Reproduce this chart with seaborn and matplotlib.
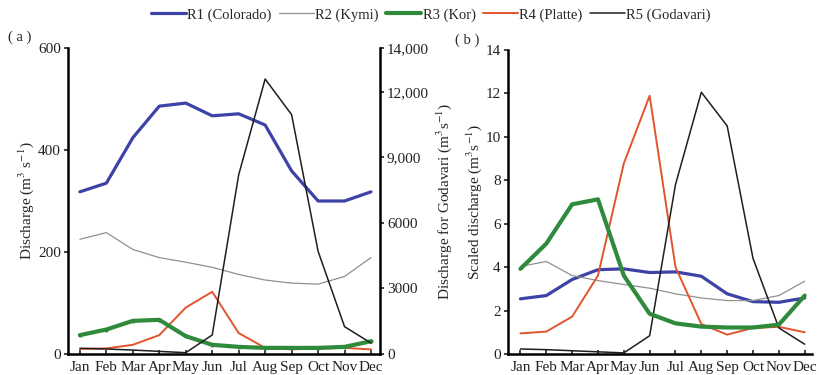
import numpy as np
import pandas as pd
import matplotlib
matplotlib.use("Agg")
import matplotlib.pyplot as plt
import seaborn as sns

months = ["Jan", "Feb", "Mar", "Apr", "May", "Jun", "Jul", "Aug", "Sep", "Oct", "Nov", "Dec"]

# Panel (a): discharge (m3/s)
colorado = [318, 335, 424, 486, 492, 467, 471, 449, 359, 300, 300, 318]
kymi = [225, 238, 205, 189, 180, 170, 156, 145, 139, 137, 152, 189]
kor = [37, 48, 65, 67, 35, 18, 14, 12, 12, 12, 14, 25]
platte = [10, 11, 18, 37, 91, 122, 41, 12, 9, 11, 12, 9]
godavari = [260, 230, 180, 120, 60, 870, 8200, 12580, 10950, 4700, 1250, 500]

# Panel (b): scaled discharge
colorado_s = [2.54, 2.69, 3.43, 3.88, 3.92, 3.75, 3.78, 3.58, 2.77, 2.41, 2.38, 2.58]
kymi_s = [4.03, 4.26, 3.61, 3.38, 3.20, 3.03, 2.77, 2.58, 2.46, 2.46, 2.69, 3.35]
kor_s = [3.92, 5.08, 6.89, 7.12, 3.61, 1.85, 1.41, 1.26, 1.22, 1.22, 1.35, 2.69]
platte_s = [0.95, 1.03, 1.72, 3.61, 8.77, 11.89, 4.00, 1.38, 0.89, 1.20, 1.25, 1.00]
godavari_s = [0.23, 0.20, 0.15, 0.10, 0.05, 0.84, 7.80, 12.05, 10.50, 4.40, 1.20, 0.45]

left_ticks = [0, 200, 400, 600]
right_ticks = [0, 3000, 6000, 9000, 12000, 14000]
right_tick_labels = ["0", "3000", "6000", "9,000", "12,000", "14,000"]
b_ticks = [0, 2, 4, 6, 8, 10, 12, 14]

names = ["R1 (Colorado)", "R2 (Kymi)", "R3 (Kor)", "R4 (Platte)", "R5 (Godavari)"]
colors = ["#3d42a6", "#909090", "#2f8a3c", "#e2542c", "#1e1e1e"]
widths = [2.3, 0.9, 3.0, 1.4, 1.1]

sns.set_theme(style="white")
plt.rcParams["font.family"] = ["Liberation Serif", "DejaVu Serif"]
plt.rcParams["mathtext.fontset"] = "stix"

fig = plt.figure(figsize=(8.19, 3.75), dpi=100)
ax_a = fig.add_axes([0.083, 0.056, 0.381, 0.816])
ax_g = ax_a.twinx()
ax_b = fig.add_axes([0.620, 0.056, 0.372, 0.811])

x = np.arange(12)

def draw(ax, y, i, marker=None):
    df = pd.DataFrame({"m": x, "v": y})
    sns.lineplot(data=df, x="m", y="v", ax=ax, color=colors[i], linewidth=widths[i],
                 marker=marker, markersize=3, markeredgewidth=0, legend=False)

# panel a
draw(ax_a, colorado, 0)
draw(ax_a, kymi, 1)
draw(ax_a, platte, 3)
draw(ax_a, kor, 2, marker="o")
draw(ax_g, godavari, 4)

# panel b
draw(ax_b, colorado_s, 0)
draw(ax_b, kymi_s, 1)
draw(ax_b, platte_s, 3)
draw(ax_b, godavari_s, 4)
draw(ax_b, kor_s, 2)

for ax in (ax_a, ax_g, ax_b):
    ax.set_facecolor("none")
    ax.set_xlabel("")
    ax.set_ylabel("")

ax_a.set_xlim(-0.45, 11.34)
ax_b.set_xlim(-0.49, 11.3)
ax_a.set_ylim(0, 600)
ax_g.set_ylim(0, 14000)
ax_b.set_ylim(0, 14)

ax_a.set_xticks(x)
ax_a.set_xticklabels(months)
ax_b.set_xticks(x)
ax_b.set_xticklabels(months)
ax_a.set_yticks(left_ticks)
ax_g.set_yticks(right_ticks)
ax_g.set_yticklabels(right_tick_labels)
ax_b.set_yticks(b_ticks)

for ax in (ax_a, ax_g, ax_b):
    for s in ax.spines.values():
        s.set_visible(False)
    ax.tick_params(labelsize=11, colors="#222222", length=3, width=1.2, direction="in", pad=3)

ax_a.spines["left"].set_visible(True)
ax_a.spines["bottom"].set_visible(True)
ax_g.spines["right"].set_visible(True)
ax_b.spines["left"].set_visible(True)
ax_b.spines["bottom"].set_visible(True)
for ax in (ax_a, ax_g, ax_b):
    for s in ax.spines.values():
        s.set_color("black")
        s.set_linewidth(1.8)

ax_a.tick_params(axis="y", left=True, direction="out", pad=2)
ax_a.tick_params(axis="x", bottom=True, pad=5)
ax_g.tick_params(axis="y", right=True, left=False, direction="out", pad=2)
ax_b.tick_params(axis="y", left=True, direction="out", pad=2)
ax_b.tick_params(axis="x", bottom=True, pad=5)

ax_a.set_ylabel("Discharge (m$^{3}$ s$^{-1}$)", fontsize=11, labelpad=1.5)
ax_g.set_ylabel("Discharge for Godavari (m$^{3}$s$^{-1}$)", fontsize=11, labelpad=4)
ax_b.set_ylabel("Scaled discharge (m$^{3}$s$^{-1}$)", fontsize=11, labelpad=1.5)

fig.text(0.010, 0.9, "( a )", fontsize=10.5, ha="left", va="center")
fig.text(0.556, 0.893, "( b )", fontsize=10.5, ha="left", va="center")

handles = []
for i in range(5):
    handles.append(plt.Line2D([], [], color=colors[i], linewidth=widths[i], label=names[i]))
fig.legend(handles=handles, loc="center", bbox_to_anchor=(0.526, 0.96), ncol=5,
           frameon=False, fontsize=10.5, handlelength=2.4, handletextpad=0.1, columnspacing=0.5)

fig.savefig("out.png", dpi=100)
